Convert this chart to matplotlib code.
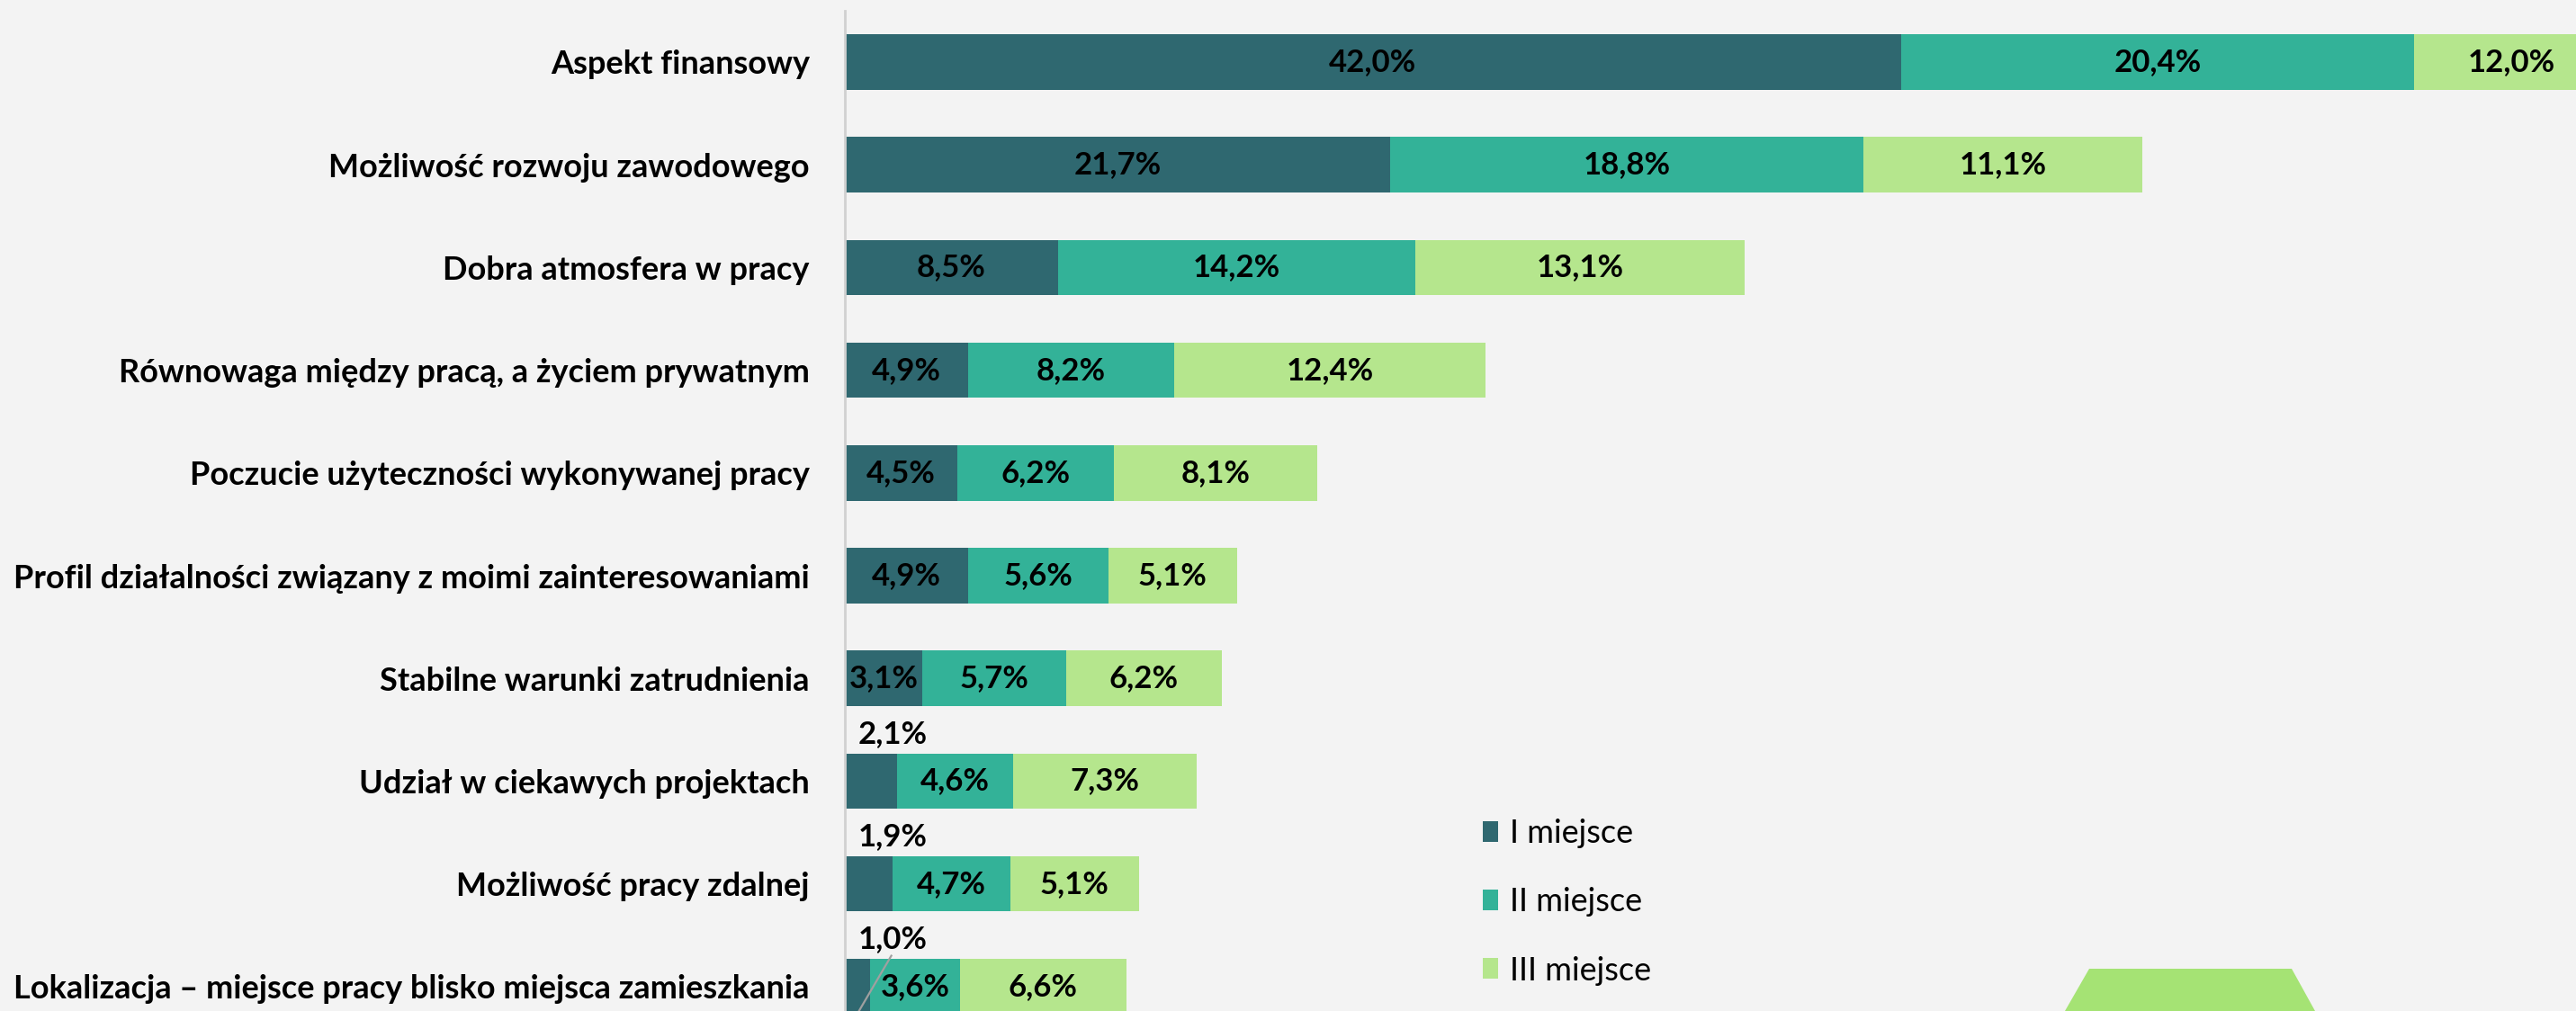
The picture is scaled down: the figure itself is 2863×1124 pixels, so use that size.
import numpy as np
import matplotlib.pyplot as plt
from matplotlib.patches import Polygon

# categories (top to bottom) and shares per rank
categories = [
    "Aspekt finansowy",
    "Możliwość rozwoju zawodowego",
    "Dobra atmosfera w pracy",
    "Równowaga między pracą, a życiem prywatnym",
    "Poczucie użyteczności wykonywanej pracy",
    "Profil działalności związany z moimi zainteresowaniami",
    "Stabilne warunki zatrudnienia",
    "Udział w ciekawych projektach",
    "Możliwość pracy zdalnej",
    "Lokalizacja – miejsce pracy blisko miejsca zamieszkania",
]
first = [42.0, 21.7, 8.5, 4.9, 4.5, 4.9, 3.1, 2.1, 1.9, 1.0]
second = [20.4, 18.8, 14.2, 8.2, 6.2, 5.6, 5.7, 4.6, 4.7, 3.6]
third = [12.0, 11.1, 13.1, 12.4, 8.1, 5.1, 6.2, 7.3, 5.1, 6.6]
series_names = ["I miejsce", "II miejsce", "III miejsce"]
colors = ["#2F6870", "#33B298", "#B5E68D"]

W, H = 2863, 1124
bg = "#F3F3F3"
XMAX = 68.84
plt.rcParams['font.family'] = ['Lato', 'DejaVu Sans']

fig = plt.figure(figsize=(W / 100, H / 100), dpi=100, facecolor=bg)
ax = fig.add_axes([938.6 / W, 0, 1 - 938.6 / W, 1])
ax.set_facecolor(bg)

y = np.arange(len(categories))
left = np.zeros(len(categories))
for vals, name, col in zip([first, second, third], series_names, colors):
    vals = np.array(vals)
    ax.barh(y, vals, left=left, height=0.54, color=col, label=name, linewidth=0)
    for i, (v, l) in enumerate(zip(vals, left)):
        txt = f"{v:.1f}%".replace(".", ",")
        if v < 2.5:
            # small values are labelled above the bar
            ax.text(1.9, i - 0.46, txt, ha='center', va='center',
                    fontsize=25, fontweight='bold', color='black')
        else:
            if l + v > XMAX:
                # bar runs off the edge: keep the label in the visible part
                xc = l + (XMAX - l) * 0.6
            else:
                xc = l + v / 2
            ax.text(xc, i, txt, ha='center', va='center',
                    fontsize=25, fontweight='bold', color='black')
    left = left + vals

# leader line of the last small label
ax.plot([1.86, 0.57], [8.70, 9.24], color='#A0A0A0', lw=1.6, clip_on=False)

ax.set_xlim(0, XMAX)
ax.set_ylim(9.238, -0.604)
ax.set_yticks(y)
ax.set_yticklabels(categories, fontsize=26, fontweight='bold')
ax.tick_params(axis='y', length=0, pad=28)
ax.set_xticks([])
for s in ['top', 'right', 'bottom']:
    ax.spines[s].set_visible(False)
ax.spines['left'].set_color('#D0D0D0')
ax.spines['left'].set_linewidth(2)
ax.spines['left'].set_bounds(-0.5, 9.238)

leg = ax.legend(loc='upper left', bbox_to_anchor=(1648 / W, 1 - 910 / H), bbox_transform=fig.transFigure,
                frameon=False, fontsize=26, handlelength=0.47, handleheight=0.6,
                handletextpad=0.35, labelspacing=1.2, borderpad=0, borderaxespad=0)

# decorative green shape at the bottom right
fig.patches.append(Polygon([(2322 / W, 1 - 1077 / H), (2547 / W, 1 - 1077 / H),
                            (2573 / W, 0), (2295 / W, 0)], closed=True,
                           transform=fig.transFigure, facecolor='#A5E374', edgecolor='none'))

fig.savefig('out.png', dpi=100, facecolor=bg)
